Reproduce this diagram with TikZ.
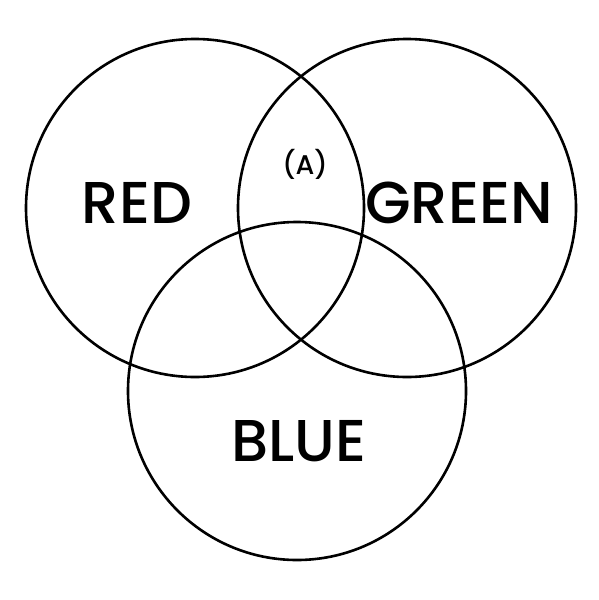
\documentclass[tikz,border=0pt]{standalone}
\usepackage{fontspec}
\setmainfont{Poppins}
\newfontfamily\popmed{Poppins Medium}
\begin{document}
\begin{tikzpicture}[x=1pt,y=-1pt,
  ring/.style={draw=black,line width=2.6pt,circle,minimum size=338pt,inner sep=0pt},
  biglabel/.style={font=\fontsize{59}{59}\selectfont\popmed},
  smalllabel/.style={font=\fontsize{27}{27}\selectfont\popmed}]
\useasboundingbox (0,0) rectangle (599,600);
\node[ring] (red) at (195,208) {};
\node[ring] (green) at (407,208) {};
\node[ring] (blue) at (297,391) {};
\node[biglabel] (tred) at (137,203) {RED};
\node[biglabel] (tgreen) at (459,203) {GREEN};
\node[biglabel] (tblue) at (299,441) {BLUE};
\node[smalllabel] (ta) at (305,164) {(A)};
\end{tikzpicture}
\end{document}
